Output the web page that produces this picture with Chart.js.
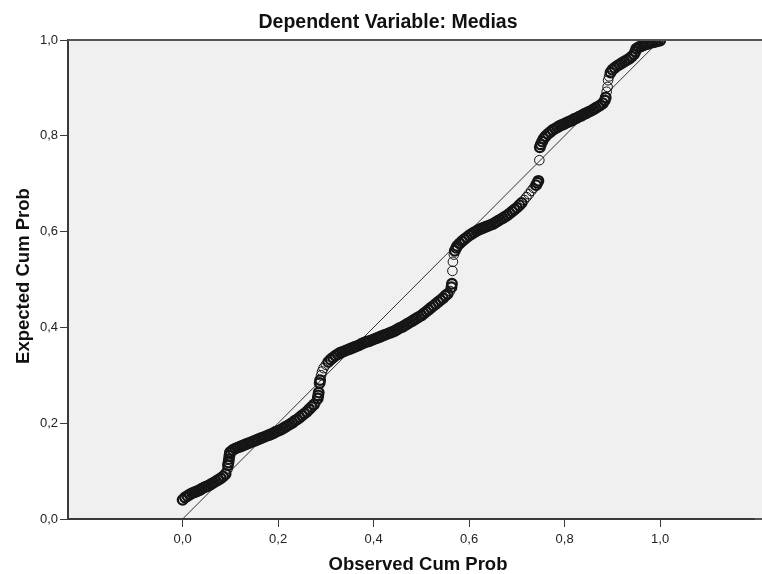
<!DOCTYPE html>
<html>
<head>
<meta charset="utf-8">
<script src="https://cdn.jsdelivr.net/npm/chart.js@4"></script>
<style>
html,body{margin:0;padding:0;background:#fff;}
#wrap{width:762px;height:574px;position:relative;}
</style>
</head>
<body>
<div id="wrap"><canvas id="c" width="762" height="574"></canvas></div>
<script>
const chartTitle = "Dependent Variable: Medias";
const xAxisTitle = "Observed Cum Prob";
const yAxisTitle = "Expected Cum Prob";
const xTickValues = [0, 0.2, 0.4, 0.6, 0.8, 1.0];
const yTickValues = [0, 0.2, 0.4, 0.6, 0.8, 1.0];
const refLineX = [0, 1];
const refLineY = [0, 1];

const observed = [
0.000,0.005,0.010,0.015,0.020,0.025,0.030,0.035,0.040,0.045,0.050,0.055,0.060,0.065,0.070,0.075,0.080,0.085,0.090,
0.094,0.095,0.096,0.097,0.098,0.099,
0.100,0.105,0.110,0.115,0.120,0.125,0.130,0.135,0.140,0.145,0.150,0.155,0.160,0.165,0.170,0.175,0.180,0.185,0.190,0.195,
0.200,0.205,0.210,0.215,0.220,0.225,0.230,0.235,0.240,0.245,0.250,0.255,0.260,0.265,0.270,0.275,0.280,
0.283,0.284,0.285,0.287,0.288,0.290,0.292,0.295,
0.300,0.305,0.310,0.315,0.320,0.325,0.330,0.335,0.340,0.345,0.350,0.355,0.360,0.365,0.370,0.375,0.380,0.385,0.390,0.395,
0.400,0.405,0.410,0.415,0.420,0.425,0.430,0.435,0.440,0.445,0.450,0.455,0.460,0.465,0.470,0.475,0.480,0.485,0.490,0.495,
0.500,0.505,0.510,0.515,0.520,0.525,0.530,0.535,0.540,0.545,0.550,0.555,0.560,
0.563,0.564,0.565,0.566,0.568,0.570,0.573,
0.575,0.580,0.585,0.590,0.595,0.600,0.605,0.610,0.615,0.620,0.625,0.630,0.635,0.640,0.645,0.650,0.655,0.660,0.665,0.670,
0.675,0.680,0.685,0.690,0.695,0.700,0.705,0.710,0.715,0.720,0.725,0.730,0.735,0.740,0.743,
0.745,0.747,0.748,
0.750,0.753,0.756,0.760,0.765,0.770,0.775,0.780,0.785,0.790,0.795,0.800,0.805,0.810,0.815,0.820,0.825,0.830,0.835,0.840,
0.845,0.850,0.855,0.860,0.865,0.870,0.875,0.880,0.884,0.886,
0.888,0.890,0.891,0.893,
0.896,0.900,0.905,0.910,0.915,0.920,0.925,0.930,0.935,0.940,0.945,0.948,0.950,0.955,0.960,0.965,0.970,0.975,0.980,0.985,
0.990,0.995,1.000
];
const expected = [
0.040,0.045,0.048,0.051,0.054,0.056,0.058,0.060,0.063,0.066,0.068,0.070,0.073,0.076,0.079,0.082,0.085,0.089,0.094,
0.104,0.112,0.118,0.125,0.132,0.138,
0.140,0.144,0.147,0.149,0.151,0.153,0.155,0.157,0.159,0.161,0.163,0.165,0.167,0.169,0.171,0.173,0.175,0.177,0.179,0.182,
0.184,0.186,0.189,0.192,0.195,0.198,0.201,0.205,0.208,0.212,0.216,0.220,0.224,0.229,0.234,0.239,0.245,
0.252,0.258,0.264,0.284,0.290,0.300,0.308,0.315,
0.322,0.328,0.333,0.337,0.341,0.344,0.347,0.349,0.351,0.353,0.355,0.357,0.359,0.361,0.363,0.366,0.368,0.370,0.371,0.373,
0.375,0.377,0.379,0.381,0.383,0.385,0.387,0.389,0.391,0.393,0.396,0.399,0.401,0.404,0.407,0.410,0.413,0.416,0.419,0.422,
0.425,0.429,0.433,0.437,0.441,0.445,0.449,0.453,0.457,0.461,0.466,0.470,0.476,
0.484,0.491,0.518,0.537,0.552,0.560,0.566,
0.570,0.575,0.580,0.584,0.588,0.592,0.595,0.598,0.601,0.604,0.606,0.608,0.610,0.612,0.614,0.616,0.619,0.622,0.625,0.628,
0.631,0.634,0.638,0.642,0.646,0.650,0.655,0.660,0.666,0.672,0.678,0.685,0.691,0.697,0.702,
0.706,0.749,0.776,
0.782,0.788,0.794,0.799,0.804,0.808,0.812,0.815,0.818,0.821,0.823,0.825,0.828,0.830,0.832,0.835,0.837,0.840,0.842,0.845,
0.847,0.850,0.852,0.855,0.858,0.861,0.864,0.868,0.874,0.880,
0.892,0.902,0.916,0.924,
0.932,0.938,0.942,0.946,0.949,0.952,0.955,0.958,0.961,0.965,0.970,0.976,0.982,0.985,0.987,0.989,0.991,0.992,0.994,0.995,
0.996,0.998,0.999
];

const pts = observed.map((x, i) => ({x: x, y: expected[i]}));
const refPts = refLineX.map((x, i) => ({x: x, y: refLineY[i]}));
const fmt = v => Number(v).toFixed(1).replace('.', ',');
const FONT = "'Liberation Sans', Arial, sans-serif";
const AXIS_COLOR = '#3a3a3a';

// thicker outline where circles crowd together (dense band), thin where isolated
function pointBorder(ctx) {
  const i = ctx.dataIndex;
  if (i === undefined || ctx.type !== 'data') return 1;
  const d = (j) => {
    if (j < 0 || j >= observed.length) return 1;
    const dx = (observed[j] - observed[i]) * 479;
    const dy = (expected[j] - expected[i]) * 479;
    return Math.sqrt(dx * dx + dy * dy);
  };
  const m = Math.min(d(i - 1), d(i + 1));
  return m < 3.5 ? 2.3 : 1;
}

const framePlugin = {
  id: 'frame',
  beforeDraw(chart) {
    const {ctx, chartArea: a} = chart;
    ctx.save();
    ctx.fillStyle = '#f0f0f0';
    ctx.fillRect(a.left, a.top, chart.width - a.left, a.bottom - a.top);
    ctx.restore();
  },
  afterDraw(chart) {
    const {ctx, chartArea: a} = chart;
    ctx.save();
    ctx.strokeStyle = '#555';
    ctx.lineWidth = 2;
    ctx.beginPath();
    ctx.moveTo(a.left, a.top);
    ctx.lineTo(chart.width, a.top);
    ctx.moveTo(a.right, a.bottom);
    ctx.lineTo(chart.width, a.bottom);
    ctx.stroke();
    ctx.fillStyle = '#111';
    ctx.textAlign = 'center';
    ctx.textBaseline = 'middle';
    ctx.font = "bold 19.5px " + FONT;
    ctx.fillText(chartTitle, 388, 23);
    ctx.font = "bold 18.5px " + FONT;
    ctx.fillText(xAxisTitle, 418, 565);
    ctx.translate(24, 276);
    ctx.rotate(-Math.PI / 2);
    ctx.fillText(yAxisTitle, 0, 0);
    ctx.restore();
  }
};

new Chart(document.getElementById('c'), {
  type: 'scatter',
  data: {
    datasets: [
      {
        data: refPts,
        showLine: true,
        borderColor: '#333',
        borderWidth: 1,
        pointRadius: 0,
        fill: false,
        order: 2
      },
      {
        data: pts,
        pointStyle: 'circle',
        pointRadius: 4.8,
        backgroundColor: 'rgba(0,0,0,0)',
        borderColor: '#151515',
        borderWidth: pointBorder,
        order: 1
      }
    ]
  },
  options: {
    responsive: false,
    animation: false,
    devicePixelRatio: 1,
    layout: {padding: {top: 40, left: 0, right: 0, bottom: 0}},
    plugins: {legend: {display: false}, title: {display: false}, tooltip: {enabled: false}},
    scales: {
      x: {
        type: 'linear',
        min: -0.24,
        max: 1.1984,
        afterBuildTicks: s => { s.ticks = xTickValues.map(v => ({value: v})); },
        afterFit: s => { s.height = 55; },
        grid: {drawOnChartArea: false, drawTicks: true, tickLength: 8, color: AXIS_COLOR, lineWidth: 1},
        border: {display: true, color: AXIS_COLOR, width: 2},
        ticks: {callback: v => fmt(v), font: {family: FONT, size: 13}, color: '#222', padding: 5, maxRotation: 0}
      },
      y: {
        type: 'linear',
        min: 0,
        max: 1,
        afterBuildTicks: s => { s.ticks = yTickValues.map(v => ({value: v})); },
        afterFit: s => { s.width = 68; },
        grid: {drawOnChartArea: false, drawTicks: true, tickLength: 8, color: AXIS_COLOR, lineWidth: 1},
        border: {display: true, color: AXIS_COLOR, width: 2},
        ticks: {callback: v => fmt(v), font: {family: FONT, size: 13}, color: '#222', padding: 2}
      }
    }
  },
  plugins: [framePlugin]
});
</script>
</body>
</html>
